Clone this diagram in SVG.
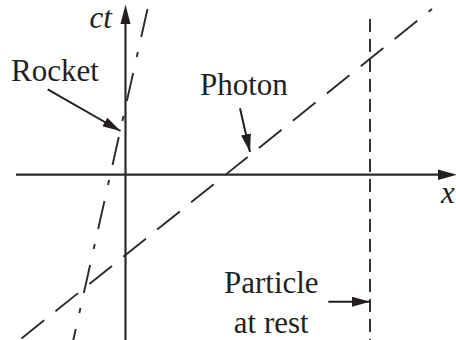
<svg xmlns="http://www.w3.org/2000/svg" width="456" height="340" viewBox="0 0 456 340">
<style>
.lbl{font-family:"Liberation Serif","Times New Roman",serif;font-size:31px;fill:#231f20}
.it{font-style:italic}
.axis{stroke:#2b2b2b;stroke-width:2.2;fill:none}
.wl{stroke:#2b2b2b;stroke-width:1.9;fill:none}
.ptr{stroke:#231f20;stroke-width:2;fill:none}
</style>
<defs>
<marker id="ah" markerWidth="18" markerHeight="10" refX="18" refY="5" orient="auto" markerUnits="userSpaceOnUse">
<path d="M0,0 L18,5 L0,10 Z" fill="#231f20"/>
</marker>
</defs>
<g id="axes">
<line class="axis" x1="16" y1="174.7" x2="439" y2="174.7"/>
<path d="M438,169.5 L457,174.7 L438,179.9 Z" fill="#231f20"/>
<line class="axis" x1="125.5" y1="340" x2="125.5" y2="22"/>
<path d="M120.5,24 L125.5,4.5 L130.5,24 Z" fill="#231f20"/>
<text class="lbl it" x="89.5" y="28">ct</text>
<text class="lbl it" x="441" y="203">x</text>
</g>
<g id="worldlines">
<line id="photon-line" class="wl" x1="21.5" y1="338.5" x2="432" y2="9" stroke-dasharray="29 14.5"/>
<line id="rocket-line" class="wl" x1="147.5" y1="9" x2="73.3" y2="340" stroke-dasharray="28.7 15.4 5.1 16.4"/>
<line id="particle-line" class="wl" x1="370" y1="19" x2="370" y2="340" stroke-dasharray="13 7"/>
</g>
<g id="rocket">
<text class="lbl" x="11" y="81">Rocket</text>
<line class="ptr" x1="47.7" y1="89.3" x2="120.5" y2="131" marker-end="url(#ah)"/>
</g>
<g id="photon">
<text class="lbl" x="200" y="95">Photon</text>
<line class="ptr" x1="240" y1="108.3" x2="250" y2="152" marker-end="url(#ah)"/>
</g>
<g id="particle">
<text class="lbl" x="271.3" y="293" text-anchor="middle">Particle</text>
<text class="lbl" x="271.3" y="332.7" text-anchor="middle">at rest</text>
<line class="ptr" x1="328.3" y1="301.7" x2="370" y2="301.7" marker-end="url(#ah)"/>
</g>
</svg>
